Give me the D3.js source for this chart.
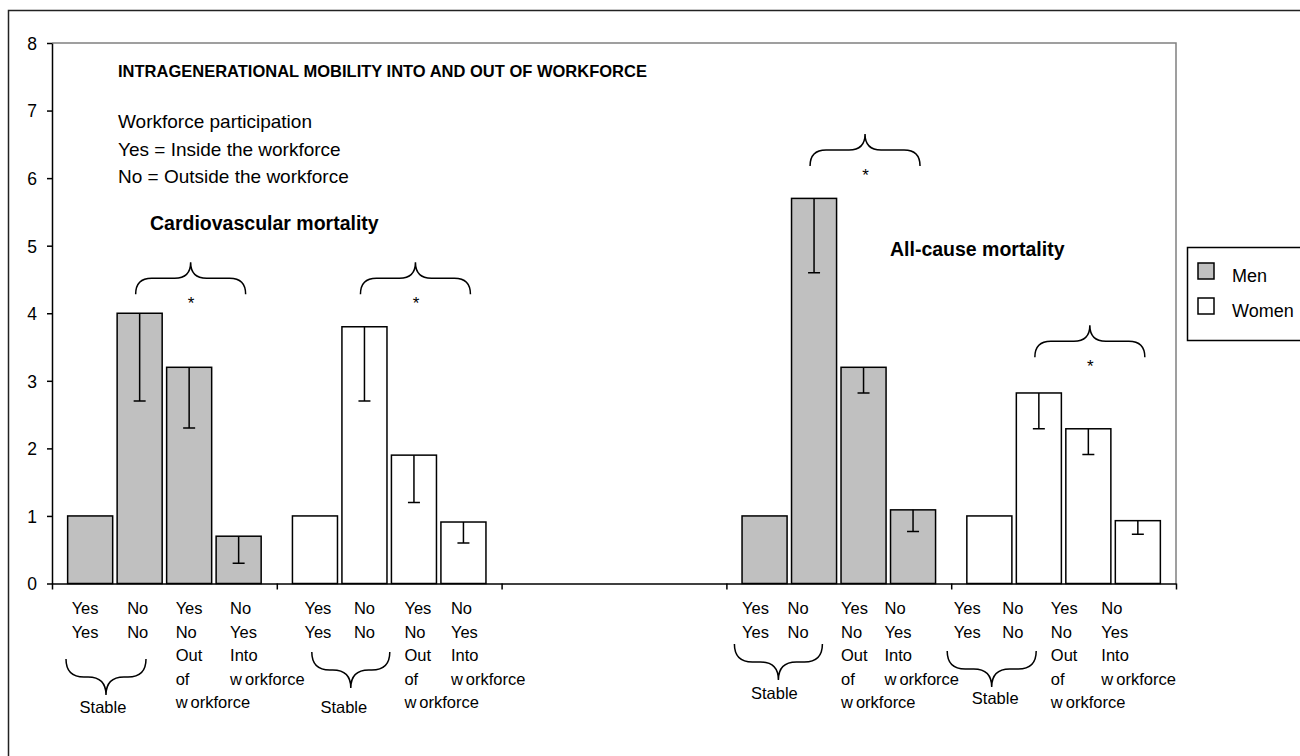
<!DOCTYPE html>
<html>
  <head>
    <title>Intragenerational mobility into and out of workforce</title>
    <script src="https://d3js.org/d3.v7.min.js"></script>
    <style>
      body { margin: 0; background: #fff; }
      svg { font-family: Arial, "Liberation Sans", sans-serif; }
      .axis .domain { stroke: #000; stroke-width: 1.5px; }
      .axis .tick line { stroke: #000; stroke-width: 1.5px; }
      .axis .tick text { font-size: 17.5px; fill: #000; }
      .bar { stroke: #000; stroke-width: 1.5px; }
      .err { stroke: #000; stroke-width: 1.5px; fill: none; }
      .brace { stroke: #000; stroke-width: 1.5px; fill: none; }
      .xlab { font-size: 16.5px; fill: #000; }
    </style>
  </head>
  <body>
    <svg width="1300" height="756"></svg>
    <script>
      // groups along the x axis (the middle one is an empty spacer)
      const groups = ["cvMen", "cvWomen", "blank", "acMen", "acWomen"];
      const groupSex = {cvMen: "Men", cvWomen: "Women", acMen: "Men", acWomen: "Women"};
      const transitions = ["Yes-Yes", "No-No", "Yes-No", "No-Yes"];
      const transitionLabels = [
        ["Yes", "Yes"],
        ["No", "No"],
        ["Yes", "No", "Out", "of", "workforce"],
        ["No", "Yes", "Into", "workforce"]
      ];

      // relative risks and lower confidence limits
      const cvMenRR = [1, 4.0, 3.2, 0.7];
      const cvMenLow = [null, 2.7, 2.3, 0.3];
      const cvWomenRR = [1, 3.8, 1.9, 0.91];
      const cvWomenLow = [null, 2.7, 1.2, 0.6];
      const acMenRR = [1, 5.7, 3.2, 1.09];
      const acMenLow = [null, 4.6, 2.82, 0.77];
      const acWomenRR = [1, 2.82, 2.29, 0.93];
      const acWomenLow = [null, 2.29, 1.91, 0.73];

      const yTicks = [0, 1, 2, 3, 4, 5, 6, 7, 8];
      const legendItems = ["Men", "Women"];

      const values = {cvMen: cvMenRR, cvWomen: cvWomenRR, acMen: acMenRR, acWomen: acWomenRR};
      const lows = {cvMen: cvMenLow, cvWomen: cvWomenLow, acMen: acMenLow, acWomen: acWomenLow};
      const fills = {Men: "#c0c0c0", Women: "#ffffff"};

      // hand-placed annotation layout (as in the original figure)
      const layout = {
        cvMen:   {shift: [4, 10, 9, 14],  stable: [14, 94],  tip: 695, stableX: 51, stableY: 713, sig: 4.28},
        cvWomen: {shift: [12, 12, 13, 10], stable: [35, 113], tip: 688, stableX: 67, stableY: 713, sig: 4.28},
        acMen:   {shift: [0, -4, 0, -6],  stable: [8, 96],   tip: 680, stableX: 48, stableY: 699, sig: 6.18},
        acWomen: {shift: [-13, -14, -15, -14], stable: [-4, 85], tip: 687, stableX: 44, stableY: 704, sig: 3.35}
      };

      const svg = d3.select("svg");
      const plotLeft = 52, plotRight = 1176, plotTop = 43, plotBottom = 583.5;

      // outer frame
      svg.append("rect")
        .attr("x", 8.5).attr("y", 10.5)
        .attr("width", 1400).attr("height", 800)
        .attr("fill", "none").attr("stroke", "#222").attr("stroke-width", 1.5);

      const x0 = d3.scaleBand().domain(groups).range([plotLeft, plotRight]);
      const x1 = d3.scaleBand().domain(d3.range(transitions.length))
        .range([0, x0.bandwidth()])
        .paddingInner(0.09).paddingOuter(0.316);
      const xIdx = d3.scaleLinear().domain([0, groups.length]).range([plotLeft, plotRight]);
      const y = d3.scaleLinear().domain([0, 8]).range([plotBottom, plotTop]);

      // plot area border (top, right)
      svg.append("path")
        .attr("d", `M${plotLeft},${plotTop}H${plotRight}V${plotBottom}`)
        .attr("fill", "none").attr("stroke", "#808080").attr("stroke-width", 1.5);

      const yAxisG = svg.append("g").attr("class", "axis")
        .attr("transform", `translate(${plotLeft},0)`)
        .call(d3.axisLeft(y).tickValues(yTicks).tickSize(5).tickSizeOuter(0).tickPadding(10));
      yAxisG.selectAll(".tick text").attr("dy", "0.36em");

      const xAxisG = svg.append("g").attr("class", "axis")
        .attr("transform", `translate(0,${plotBottom})`)
        .call(d3.axisBottom(xIdx).tickValues(d3.range(groups.length + 1))
          .tickFormat("").tickSize(6).tickSizeOuter(0));

      const dataGroups = groups.filter(g => g !== "blank");

      const gGroups = svg.selectAll(".grp").data(dataGroups)
        .enter().append("g").attr("class", "grp")
        .attr("transform", g => `translate(${x0(g)},0)`);

      // bars
      gGroups.selectAll("rect").data(g => values[g].map((v, i) => ({g, i, v, low: lows[g][i]})))
        .enter().append("rect").attr("class", "bar")
          .attr("x", d => x1(d.i))
          .attr("y", d => y(d.v))
          .attr("width", x1.bandwidth())
          .attr("height", d => y(0) - y(d.v))
          .attr("fill", d => fills[groupSex[d.g]]);

      // lower error bars
      const capW = 12;
      gGroups.selectAll(".err").data(g => values[g].map((v, i) => ({g, i, v, low: lows[g][i]})).filter(d => d.low != null))
        .enter().append("path").attr("class", "err")
          .attr("d", d => {
            const cx = x1(d.i) + x1.bandwidth() / 2;
            return `M${cx},${y(d.v)}V${y(d.low)}M${cx - capW / 2},${y(d.low)}H${cx + capW / 2}`;
          });

      // brace helpers
      function braceUp(xa, xb, yEnd, h) {
        const xc = (xa + xb) / 2, r = h / 2, yMid = yEnd - r, yTop = yEnd - h;
        return `M${xa},${yEnd}Q${xa},${yMid} ${xa + r},${yMid}L${xc - r},${yMid}` +
          `Q${xc},${yMid} ${xc},${yTop}Q${xc},${yMid} ${xc + r},${yMid}` +
          `L${xb - r},${yMid}Q${xb},${yMid} ${xb},${yEnd}`;
      }
      function braceDown(xa, xb, yEnd, yTip) {
        const h = yTip - yEnd, xc = (xa + xb) / 2, r = h / 2, yMid = yEnd + r;
        return `M${xa},${yEnd}Q${xa},${yMid} ${xa + r},${yMid}L${xc - r},${yMid}` +
          `Q${xc},${yMid} ${xc},${yTip}Q${xc},${yMid} ${xc + r},${yMid}` +
          `L${xb - r},${yMid}Q${xb},${yMid} ${xb},${yEnd}`;
      }

      // significance braces over bars 2-4
      gGroups.append("path").attr("class", "brace")
        .attr("d", g => braceUp(x1(1) + x1.bandwidth() / 2 - 4, x1(3) + x1.bandwidth() / 2 + 7, y(layout[g].sig), 32));
      gGroups.append("text")
        .attr("x", (x1(1) + x1(3) + x1.bandwidth()) / 2 + 2)
        .attr("y", g => y(layout[g].sig) + 15)
        .attr("text-anchor", "middle")
        .attr("font-size", 17)
        .text("*");

      // category labels under each bar
      gGroups.each(function (g) {
        const sel = d3.select(this);
        transitionLabels.forEach((lines, i) => {
          const t = sel.append("text").attr("class", "xlab")
            .attr("x", x1(i) + layout[g].shift[i])
            .attr("y", 614);
          lines.forEach((line, k) => {
            const ts = t.append("tspan")
              .attr("x", x1(i) + layout[g].shift[i])
              .attr("y", 614 + k * 23.5);
            if (line === "workforce") {
              ts.text("w");
              t.append("tspan").attr("dx", 3).text("orkforce");
            } else {
              ts.text(line);
            }
          });
        });
        const L = layout[g];
        sel.append("path").attr("class", "brace")
          .attr("d", braceDown(L.stable[0], L.stable[1], L.tip - 36, L.tip));
        sel.append("text").attr("class", "xlab")
          .attr("x", L.stableX).attr("y", L.stableY)
          .attr("text-anchor", "middle")
          .text("Stable");
      });

      // titles and notes
      svg.append("text").attr("x", 118).attr("y", 77)
        .attr("font-size", 16.5).attr("font-weight", "bold")
        .text("INTRAGENERATIONAL MOBILITY INTO AND OUT OF WORKFORCE");
      ["Workforce participation", "Yes = Inside the workforce", "No = Outside the workforce"]
        .forEach((s, i) => svg.append("text").attr("x", 118).attr("y", 128 + i * 27.5)
          .attr("font-size", 19).text(s));
      svg.append("text").attr("x", 150).attr("y", 230)
        .attr("font-size", 19.5).attr("font-weight", "bold").text("Cardiovascular mortality");
      svg.append("text").attr("x", 890).attr("y", 256)
        .attr("font-size", 19.5).attr("font-weight", "bold").text("All-cause mortality");

      // legend
      const lg = svg.append("g");
      lg.append("rect").attr("x", 1187.5).attr("y", 247.5).attr("width", 200).attr("height", 93)
        .attr("fill", "#fff").attr("stroke", "#000").attr("stroke-width", 1.5);
      legendItems.forEach((name, i) => {
        lg.append("rect").attr("x", 1198).attr("y", 263 + i * 35).attr("width", 16).attr("height", 16)
          .attr("fill", fills[name]).attr("stroke", "#000").attr("stroke-width", 1.5);
        lg.append("text").attr("x", 1232).attr("y", 282 + i * 35)
          .attr("font-size", 18).text(name);
      });
    </script>
  </body>
</html>
